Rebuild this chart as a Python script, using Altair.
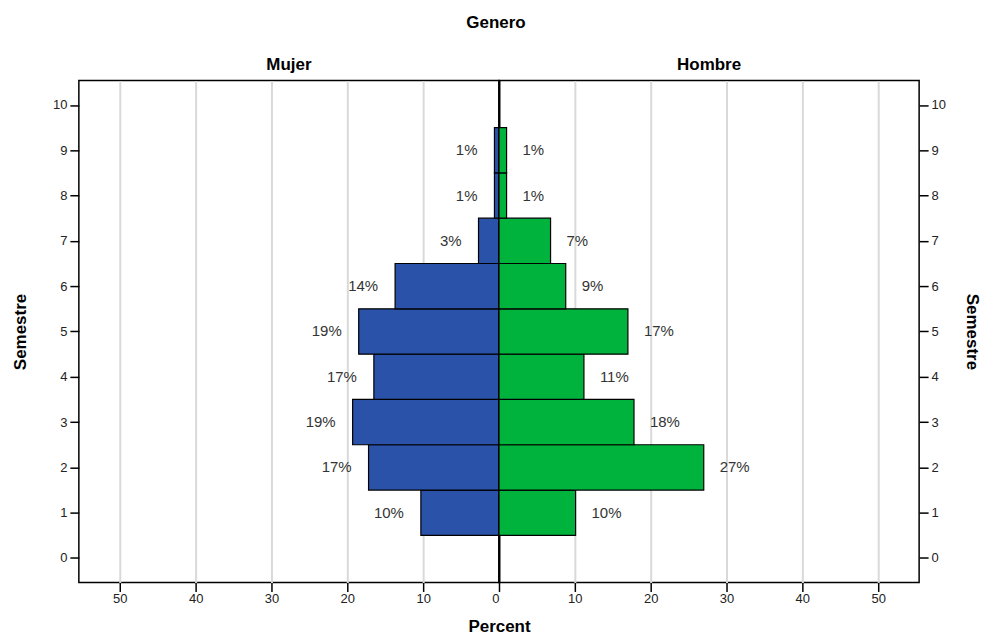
import altair as alt
import pandas as pd

semestre = [1, 2, 3, 4, 5, 6, 7, 8, 9]
mujer = [10.3, 17.2, 19.3, 16.5, 18.5, 13.7, 2.7, 0.6, 0.6]
hombre = [10.1, 27.0, 17.8, 11.2, 17.0, 8.8, 6.8, 1.0, 1.0]
mujer_lbl = ["10%", "17%", "19%", "17%", "19%", "14%", "3%", "1%", "1%"]
hombre_lbl = ["10%", "27%", "18%", "11%", "17%", "9%", "7%", "1%", "1%"]
y_ticks = list(range(0, 11))
x_ticks_left = [0, 10, 20, 30, 40, 50]
x_ticks_right = [10, 20, 30, 40, 50]

df_m = pd.DataFrame({"Semestre": semestre, "Percent": mujer, "lbl": mujer_lbl})
df_h = pd.DataFrame({"Semestre": semestre, "Percent": hombre, "lbl": hombre_lbl})

FONT = "Liberation Sans"
TFONT = "Liberation Sans Narrow, Arial Narrow, Liberation Sans"
BLUE = "#2a52a8"
GREEN = "#00b33c"
W, H = 421, 503
XMAX = 55.4

yscale = alt.Scale(domain=[-0.54, 10.54], nice=False, zero=False)


def panel(df, color, reverse, orient, xvals, title, lbl_align, lbl_dx, xtitle, tpad):
    base = alt.Chart(df).transform_calculate(
        y0="datum.Semestre - 0.5", y1="datum.Semestre + 0.5"
    )
    xaxis = alt.Axis(
        values=xvals,
        grid=True,
        gridColor=alt.condition("datum.value == 0", alt.value("black"), alt.value("#d9d9d9")),
        gridWidth=2,
        domain=False,
        ticks=True,
        tickColor="black",
        tickWidth=1.5,
        tickSize=9,
        labelFont=FONT,
        labelFontSize=13,
        labelColor="#222",
        labelPadding=1,
        title=xtitle,
        titleFont=TFONT,
        titleFontSize=17,
        titleFontWeight="bold",
        titleColor="black",
        titleX=(W if reverse else 0),
        titleY=53,
        titleBaseline="bottom",
        titleAlign="center",
    )
    yaxis = alt.Axis(
        values=y_ticks,
        orient=orient,
        grid=False,
        domain=False,
        tickColor="black",
        tickWidth=1.5,
        tickSize=9,
        labelFont=FONT,
        labelFontSize=13,
        labelColor="#222",
        labelPadding=3,
        title="Semestre",
        titleFont=TFONT,
        titleFontSize=17,
        titleFontWeight="bold",
        titleColor="black",
        titlePadding=tpad,
    )
    xsc = alt.Scale(domain=[0, XMAX], reverse=reverse, nice=False)
    bars = base.mark_rect(color=color, stroke="black", strokeWidth=1.2).encode(
        x=alt.X("Percent:Q", scale=xsc, axis=xaxis),
        x2=alt.datum(0),
        y=alt.Y("y0:Q", scale=yscale, axis=yaxis),
        y2="y1:Q",
    )
    text = base.mark_text(
        align=lbl_align, dx=lbl_dx, font=FONT, fontSize=15, color="#333"
    ).encode(
        x=alt.X("Percent:Q", scale=xsc),
        y=alt.Y("Semestre:Q", scale=yscale),
        text="lbl:N",
    )
    return alt.layer(bars, text).properties(
        width=W,
        height=H,
        title=alt.Title(title, font=TFONT, fontSize=17, fontWeight="bold", color="black", offset=7),
    )


left = panel(df_m, BLUE, True, "left", x_ticks_left, "Mujer", "right", -17, "Percent", 23)
right = panel(df_h, GREEN, False, "right", x_ticks_right, "Hombre", "left", 16, None, 17)

chart = alt.hconcat(left, right, spacing=0, bounds="flush").properties(
    title=alt.Title("Genero", font=TFONT, fontSize=17, fontWeight="bold", color="black", anchor="middle", offset=23),
    padding={"left": 2, "right": 0, "top": 5, "bottom": 0},
).configure(background="white").configure_view(stroke="black", strokeWidth=1.5)

chart.save("out.html", embed_options={"renderer": "svg", "actions": False})
